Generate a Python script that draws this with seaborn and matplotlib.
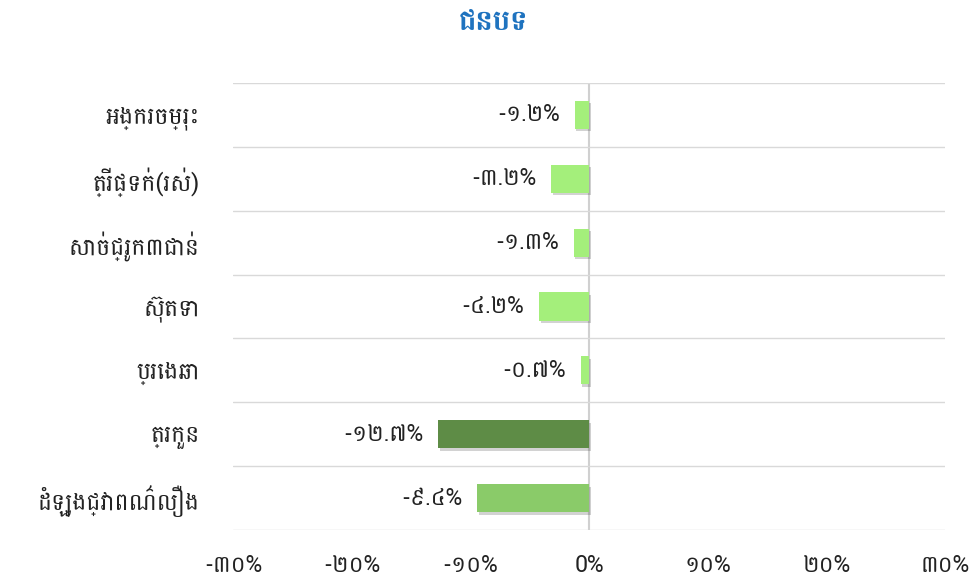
import matplotlib
matplotlib.use("Agg")
import os
import matplotlib.pyplot as plt
import matplotlib.patheffects as pe
from matplotlib import font_manager as fm
from matplotlib.ticker import FixedLocator, FuncFormatter
import seaborn as sns
import pandas as pd

title = "ជនបទ"
categories = ["អង្ករចម្រុះ", "ត្រីផ្ទក់(រស់)", "សាច់ជ្រូក៣ជាន់", "ស៊ុតទា",
              "ប្រេងឆា", "ត្រកួន", "ដំឡូងជ្វាពណ៌លឿង"]
values = [-1.2, -3.2, -1.3, -4.2, -0.7, -12.7, -9.4]
bar_colors = ["#A4EF7B", "#A4EF7B", "#A4EF7B", "#A4EF7B", "#A4EF7B", "#5E8C46", "#8ACB69"]
x_ticks = [-30, -20, -10, 0, 10, 20, 30]

khmer_family = None
for path in ["/usr/share/fonts/truetype/google-fonts/Battambang-Regular.ttf",
             "/usr/share/fonts/truetype/google-fonts/Hanuman[wght].ttf"]:
    if os.path.exists(path):
        try:
            fm.fontManager.addfont(path)
            khmer_family = fm.FontProperties(fname=path).get_name()
            break
        except Exception:
            pass

sns.set_theme(style="white")
plt.rcParams["font.family"] = ([khmer_family] if khmer_family else []) + ["DejaVu Sans"]

KH_DIGITS = str.maketrans("0123456789", "០១២៣៤៥៦៧៨៩")

def kh(s):
    return s.translate(KH_DIGITS)

def tick_fmt(v, pos):
    if v == 0:
        return "0%"
    return kh(f"{v:.0f}%")

df = pd.DataFrame({"cat": categories, "val": values})

fig = plt.figure(figsize=(9.71, 5.79), dpi=100)
ax = fig.add_axes([233 / 971, 1 - 530 / 579, (945 - 233) / 971, (530 - 83) / 579])

sns.barplot(data=df, x="val", y="cat", hue="cat", palette=bar_colors, orient="h",
            width=0.44, legend=False, ax=ax, saturation=1)

for p in ax.patches:
    p.set_linewidth(0)
    p.set_path_effects([pe.SimplePatchShadow(offset=(1.2, -1.8), alpha=0.22, shadow_rgbFace="#333333"),
                        pe.Normal()])

ax.set_xlim(-30, 30)
ax.set_ylim(6.5, -0.5)
ax.xaxis.set_major_locator(FixedLocator(x_ticks))
ax.xaxis.set_major_formatter(FuncFormatter(tick_fmt))
ax.yaxis.set_minor_locator(FixedLocator([i - 0.5 for i in range(len(categories) + 1)]))
ax.grid(False)
ax.grid(True, which="minor", axis="y", color="#D9D9D9", linewidth=1)
ax.axvline(0, color="#D0D0D0", linewidth=1.5, zorder=0.5)
for s in ax.spines.values():
    s.set_visible(False)

ax.tick_params(axis="y", which="both", length=0, pad=24, labelsize=17, labelcolor="#222222")
ax.tick_params(axis="x", length=0, pad=17, labelsize=16.5, labelcolor="#222222")
ax.set_xlabel("")
ax.set_ylabel("")

for i, v in enumerate(values):
    ax.text(v - 1.25, i, kh(f"{v:.1f}%"), ha="right", va="center", fontsize=16.5, color="#222222")

fig.text(493 / 971, 1 - 22 / 579, title, ha="center", va="center",
         fontsize=21, color="#1F73BF", fontweight="bold")

fig.savefig("out.png", dpi=100, facecolor="white")
